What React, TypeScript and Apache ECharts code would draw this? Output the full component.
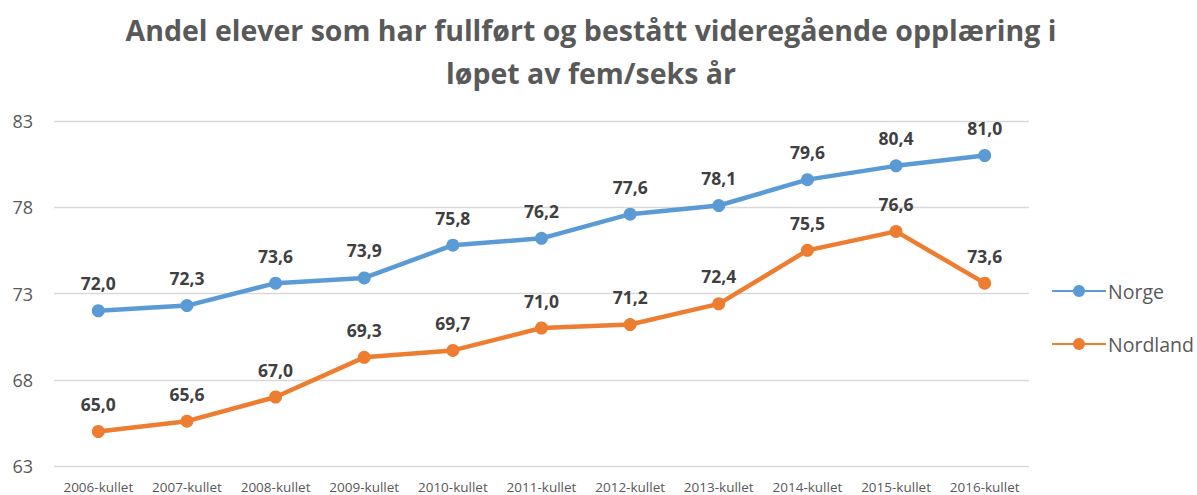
import React, { useEffect, useRef } from "react";
import * as echarts from "echarts";

const categories = [
  "2006-kullet", "2007-kullet", "2008-kullet", "2009-kullet", "2010-kullet", "2011-kullet",
  "2012-kullet", "2013-kullet", "2014-kullet", "2015-kullet", "2016-kullet",
];
const norge = [72.0, 72.3, 73.6, 73.9, 75.8, 76.2, 77.6, 78.1, 79.6, 80.4, 81.0];
const nordland = [65.0, 65.6, 67.0, 69.3, 69.7, 71.0, 71.2, 72.4, 75.5, 76.6, 73.6];
const titleLines = [
  "Andel elever som har fullført og bestått videregående opplæring i",
  "løpet av fem/seks år",
];

const FONT = "'Open Sans', sans-serif";

export default function App() {
  const ref = useRef<HTMLDivElement>(null);
  useEffect(() => {
    document.body.style.margin = "0";
    const chart = echarts.init(ref.current!, null, { renderer: "svg" });
    const fmt = (p: any) => Number(p.value).toFixed(1).replace(".", ",");
    const mkSeries = (name: string, data: number[], color: string) => ({
      name,
      type: "line",
      data,
      color,
      symbol: "circle",
      symbolSize: 13,
      lineStyle: { width: 4.5, color },
      itemStyle: { color },
      label: {
        show: true,
        position: "top",
        distance: 12,
        formatter: fmt,
        fontFamily: FONT,
        fontWeight: "bold",
        fontSize: 17.5,
        color: "#404040",
      },
    });
    chart.setOption({
      animation: false,
      backgroundColor: "#ffffff",
      textStyle: { fontFamily: FONT },
      graphic: titleLines.map((t, i) => ({
        type: "text",
        x: 591,
        y: 30 + i * 43,
        style: {
          text: t,
          fill: "#595959",
          font: `bold 28.5px ${FONT}`,
          textAlign: "center",
          textVerticalAlign: "middle",
        },
      })),
      legend: {
        orient: "vertical",
        left: 1046,
        top: 276,
        itemWidth: 54,
        itemHeight: 15,
        itemGap: 33,
        textStyle: { fontFamily: FONT, fontSize: 19.5, color: "#595959", padding: [0, 0, 0, -3] },
        data: ["Norge", "Nordland"],
      },
      grid: { left: 54, right: 168, top: 121, bottom: 29, containLabel: false },
      xAxis: {
        type: "category",
        data: categories,
        boundaryGap: true,
        axisLine: { show: false },
        axisTick: { show: false },
        axisLabel: { fontFamily: FONT, fontSize: 13.5, color: "#595959", margin: 14, interval: 0 },
      },
      yAxis: {
        type: "value",
        min: 63,
        max: 83,
        interval: 5,
        axisLine: { show: false },
        axisTick: { show: false },
        splitLine: { lineStyle: { color: "#D9D9D9", width: 1.3 } },
        axisLabel: { fontFamily: FONT, fontSize: 18, color: "#595959", margin: 21 },
      },
      series: [mkSeries("Norge", norge, "#5B9BD5"), mkSeries("Nordland", nordland, "#ED7D31")],
    });
    return () => chart.dispose();
  }, []);
  return <div ref={ref} style={{ width: 1197, height: 495 }} />;
}
